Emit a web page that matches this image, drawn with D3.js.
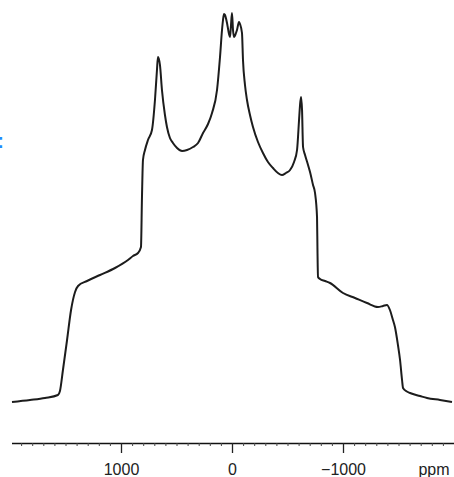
<!DOCTYPE html>
<html>
<head>
<meta charset="utf-8">
<script src="https://cdn.jsdelivr.net/npm/d3@7"></script>
<style>
  body { margin: 0; background: #fff; }
  svg { display: block; font-family: "Liberation Sans", Arial, sans-serif; }
</style>
</head>
<body>
<svg id="drawing_region"></svg>
<script>
// spectrum: chemical shift (ppm) and intensity (0-100)
const ppm = [1982, 1820, 1685, 1568, 1550, 1523, 1486, 1450, 1414, 1387, 1306, 1189, 1054, 937, 892, 847, 820, 811, 802,
  784, 757, 721, 694, 676, 667, 649, 631, 604, 586, 559, 532, 495, 450, 405, 351, 306, 261, 216, 180, 135, 108, 90, 81,
  72, 63, 45, 27, 18, 9, 0, -9, -18, -36, -45, -63, -72, -90, -99, -117, -135, -162, -189, -234, -279, -324, -369, -414,
  -450, -486, -523, -559, -586, -604, -613, -622, -631, -640, -658, -685, -703, -730, -748, -766, -770, -775, -793, -838,
  -883, -1000, -1108, -1216, -1315, -1360, -1396, -1423, -1450, -1468, -1495, -1514, -1532, -1541, -1568, -1604, -1694,
  -1757, -1874, -1982];
const intensity = [2, 2.5, 3, 3.75, 4.75, 10, 17.5, 25, 29.5, 31, 32.25, 33.75, 35.5, 37.5, 38.5, 39.25, 40.75, 53.25, 62.5,
  65, 67.5, 70, 77.5, 85, 88.25, 86.25, 80, 73.75, 70.75, 68, 66.75, 65.5, 64.75, 65, 65.75, 66.75, 69.25, 71.5, 74.25, 80,
  88.25, 95, 97.5, 99, 98.75, 96.75, 94, 93.25, 96.25, 99.25, 95, 93.25, 94.25, 95, 97, 96.5, 94.25, 87.5, 81.25, 77.5,
  73.75, 70.75, 67, 64.25, 62, 60.5, 59.25, 58.75, 59.25, 60, 62, 65, 72.5, 76.25, 78.25, 75, 65.75, 63.75, 61.25, 59.5,
  56.25, 54.25, 48.25, 40, 33.25, 32.75, 32.25, 31.75, 29.25, 28, 26.75, 25.75, 26, 26.25, 25, 22.5, 20.75, 16.25, 12.5,
  7.5, 5.5, 4.75, 4.25, 3.5, 3, 2.5, 2];

const major_ticks = [1000, 0, -1000];
const minor_ticks = d3.range(1900, -2000, -100);
const axis_unit = "ppm";

const data = ppm.map((p, i) => ({ x: p, y: intensity[i] }));

const width = 454, height = 477;
const axis_y = 443;

const svg = d3.select('#drawing_region')
    .attr('width', width)
    .attr('height', height);

const xscale = d3.scaleLinear()
    .domain([2000, -2000])
    .range([10, 454]);

const yscale = d3.scaleLinear()
    .domain([0, 100])
    .range([410, 10]);

// spectrum line
const line = d3.line()
    .x(d => xscale(d.x))
    .y(d => yscale(d.y))
    .curve(d3.curveMonotoneX);

svg.append('path')
    .datum(data)
    .attr('d', line)
    .attr('fill', 'none')
    .attr('stroke', '#1c1c1c')
    .attr('stroke-width', 2)
    .attr('stroke-linejoin', 'round');

// minor ticks
const minor_axis = d3.axisBottom(xscale)
    .tickValues(minor_ticks)
    .tickSize(3)
    .tickSizeOuter(0)
    .tickFormat('');

svg.append('g')
    .attr('transform', `translate(0, ${axis_y})`)
    .call(minor_axis)
    .call(g => g.select('.domain').attr('d', `M12,0.5H454`).attr('stroke', '#111').attr('stroke-width', 1.4))
    .call(g => g.selectAll('.tick line').attr('stroke', '#444'));

// major ticks with labels
const major_axis = d3.axisBottom(xscale)
    .tickValues(major_ticks)
    .tickSize(10)
    .tickSizeOuter(0)
    .tickFormat(d3.format(',.0f'));

svg.append('g')
    .attr('transform', `translate(0, ${axis_y})`)
    .call(major_axis)
    .call(g => g.select('.domain').remove())
    .call(g => g.selectAll('.tick line').attr('stroke', '#222').attr('stroke-width', 1.3))
    .call(g => g.selectAll('.tick text')
        .text(d => d3.format('.0f')(d).replace('-', '\u2212'))
        .attr('y', 32)
        .attr('dy', 0)
        .attr('fill', '#222')
        .attr('font-size', 16)
        .attr('font-family', '"Liberation Sans", Arial, sans-serif'));

svg.append('text')
    .attr('x', 434)
    .attr('y', axis_y + 32)
    .attr('text-anchor', 'middle')
    .attr('font-size', 16)
    .attr('fill', '#222')
    .text(axis_unit);

// blue colon cut at the left edge
svg.append('text')
    .attr('x', -3)
    .attr('y', 148)
    .attr('font-size', 21)
    .attr('font-weight', 'bold')
    .attr('fill', '#1e8cff')
    .text(':');
</script>
</body>
</html>
